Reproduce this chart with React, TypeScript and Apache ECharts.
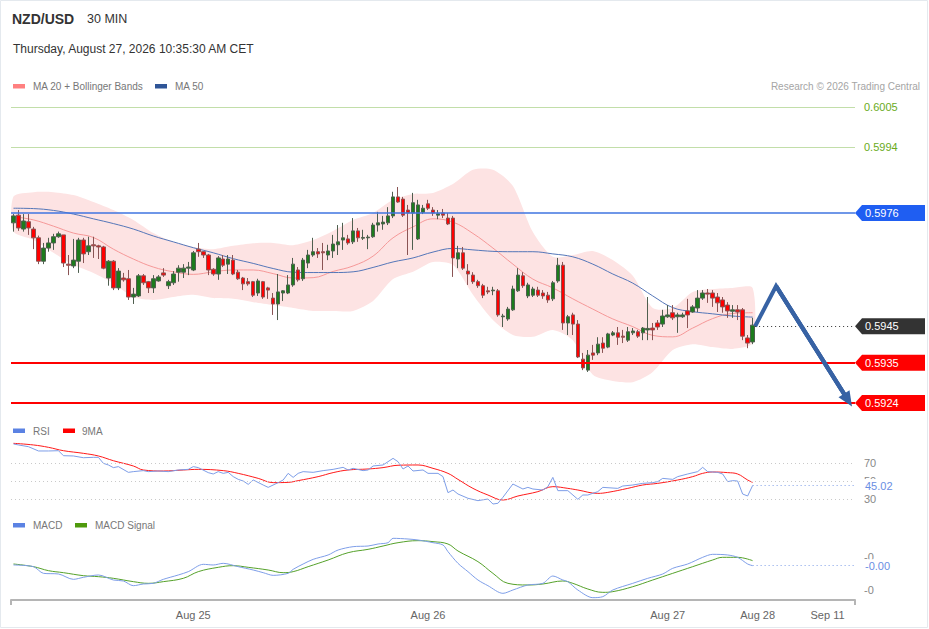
import React, { useEffect, useRef } from "react";
import * as echarts from "echarts";

// ---------- DATA ----------
const SLOT_COUNT = 169; // candle slots on the time axis (incl. forecast space)

// 30-min candles: [open, close, low, high]
const candles: number[][] = [
  [0.59733,0.59752,0.59709,0.59757],[0.59754,0.59719,0.59711,0.59768],[0.59716,0.59738,0.59709,0.59757],[0.59736,0.59719,0.59700,0.59757],
  [0.59716,0.59692,0.59661,0.59722],[0.59692,0.59628,0.59620,0.59698],[0.59628,0.59664,0.59620,0.59678],[0.59664,0.59678,0.59654,0.59692],
  [0.59678,0.59695,0.59659,0.59703],[0.59695,0.59703,0.59692,0.59709],[0.59700,0.59623,0.59612,0.59700],[0.59620,0.59617,0.59590,0.59645],
  [0.59615,0.59631,0.59609,0.59689],[0.59628,0.59686,0.59596,0.59692],[0.59686,0.59648,0.59623,0.59692],[0.59654,0.59670,0.59645,0.59695],
  [0.59673,0.59670,0.59637,0.59695],[0.59670,0.59667,0.59634,0.59673],[0.59667,0.59609,0.59606,0.59670],[0.59582,0.59628,0.59561,0.59631],
  [0.59628,0.59555,0.59549,0.59631],[0.59555,0.59601,0.59549,0.59609],[0.59582,0.59577,0.59572,0.59596],[0.59580,0.59530,0.59522,0.59604],
  [0.59530,0.59538,0.59511,0.59555],[0.59533,0.59588,0.59530,0.59593],[0.59588,0.59569,0.59563,0.59593],[0.59572,0.59555,0.59541,0.59574],
  [0.59555,0.59580,0.59541,0.59590],[0.59574,0.59585,0.59572,0.59590],[0.59596,0.59590,0.59585,0.59609],[0.59561,0.59572,0.59552,0.59577],
  [0.59569,0.59593,0.59563,0.59601],[0.59598,0.59609,0.59572,0.59617],[0.59598,0.59609,0.59582,0.59620],[0.59609,0.59612,0.59590,0.59626],
  [0.59604,0.59651,0.59601,0.59656],[0.59661,0.59654,0.59640,0.59678],[0.59654,0.59645,0.59637,0.59656],[0.59645,0.59604,0.59590,0.59648],
  [0.59606,0.59593,0.59588,0.59609],[0.59593,0.59637,0.59577,0.59642],[0.59634,0.59617,0.59612,0.59645],[0.59620,0.59634,0.59593,0.59645],
  [0.59631,0.59593,0.59590,0.59645],[0.59598,0.59580,0.59577,0.59604],[0.59582,0.59566,0.59549,0.59585],[0.59572,0.59566,0.59561,0.59582],
  [0.59572,0.59535,0.59530,0.59574],[0.59541,0.59574,0.59533,0.59580],[0.59572,0.59530,0.59525,0.59574],[0.59555,0.59549,0.59525,0.59558],
  [0.59527,0.59511,0.59481,0.59541],[0.59511,0.59544,0.59467,0.59593],[0.59541,0.59547,0.59519,0.59549],[0.59541,0.59563,0.59538,0.59590],
  [0.59563,0.59620,0.59558,0.59637],[0.59604,0.59577,0.59572,0.59612],[0.59580,0.59631,0.59574,0.59637],[0.59623,0.59645,0.59609,0.59659],
  [0.59645,0.59654,0.59640,0.59692],[0.59654,0.59648,0.59637,0.59664],[0.59654,0.59651,0.59604,0.59678],[0.59645,0.59656,0.59631,0.59673],
  [0.59656,0.59675,0.59637,0.59700],[0.59673,0.59681,0.59645,0.59727],[0.59686,0.59692,0.59659,0.59733],[0.59689,0.59678,0.59673,0.59700],
  [0.59681,0.59711,0.59675,0.59746],[0.59711,0.59692,0.59681,0.59719],[0.59691,0.59693,0.59686,0.59714],[0.59692,0.59694,0.59661,0.59700],
  [0.59695,0.59727,0.59692,0.59733],[0.59727,0.59733,0.59709,0.59763],[0.59730,0.59735,0.59714,0.59752],[0.59733,0.59752,0.59727,0.59776],
  [0.59752,0.59804,0.59746,0.59818],[0.59804,0.59790,0.59788,0.59831],[0.59798,0.59754,0.59749,0.59804],[0.59768,0.59760,0.59645,0.59782],
  [0.59760,0.59788,0.59659,0.59815],[0.59689,0.59782,0.59686,0.59796],[0.59762,0.59773,0.59757,0.59782],[0.59785,0.59773,0.59768,0.59796],
  [0.59768,0.59760,0.59752,0.59776],[0.59754,0.59758,0.59743,0.59768],[0.59760,0.59754,0.59746,0.59771],[0.59746,0.59730,0.59727,0.59760],
  [0.59746,0.59637,0.59585,0.59752],[0.59634,0.59651,0.59609,0.59670],[0.59651,0.59609,0.59604,0.59667],[0.59601,0.59593,0.59563,0.59620],
  [0.59590,0.59572,0.59566,0.59598],[0.59572,0.59561,0.59555,0.59577],[0.59561,0.59535,0.59527,0.59566],[0.59547,0.59544,0.59538,0.59558],
  [0.59547,0.59549,0.59535,0.59558],[0.59547,0.59481,0.59476,0.59552],[0.59476,0.59478,0.59448,0.59484],[0.59470,0.59497,0.59465,0.59503],
  [0.59495,0.59552,0.59492,0.59561],[0.59547,0.59590,0.59544,0.59609],[0.59588,0.59561,0.59555,0.59598],[0.59533,0.59563,0.59527,0.59569],
  [0.59535,0.59552,0.59530,0.59558],[0.59549,0.59535,0.59530,0.59558],[0.59541,0.59533,0.59525,0.59549],[0.59535,0.59522,0.59514,0.59544],
  [0.59525,0.59569,0.59519,0.59574],[0.59574,0.59617,0.59569,0.59637],[0.59617,0.59459,0.59440,0.59626],[0.59459,0.59476,0.59426,0.59481],
  [0.59481,0.59456,0.59426,0.59487],[0.59456,0.59366,0.59363,0.59467],[0.59360,0.59336,0.59330,0.59377],[0.59330,0.59371,0.59325,0.59385],
  [0.59377,0.59371,0.59358,0.59399],[0.59377,0.59401,0.59371,0.59420],[0.59404,0.59390,0.59377,0.59420],[0.59393,0.59429,0.59390,0.59432],
  [0.59426,0.59432,0.59423,0.59437],[0.59432,0.59420,0.59399,0.59448],[0.59423,0.59420,0.59404,0.59440],[0.59412,0.59435,0.59407,0.59448],
  [0.59432,0.59437,0.59426,0.59445],[0.59435,0.59423,0.59418,0.59440],[0.59432,0.59445,0.59412,0.59448],[0.59440,0.59444,0.59412,0.59530],
  [0.59445,0.59440,0.59412,0.59459],[0.59459,0.59448,0.59440,0.59467],[0.59456,0.59478,0.59448,0.59495],[0.59476,0.59481,0.59473,0.59508],
  [0.59487,0.59473,0.59467,0.59508],[0.59476,0.59481,0.59432,0.59487],[0.59476,0.59481,0.59473,0.59487],[0.59492,0.59481,0.59445,0.59525],
  [0.59489,0.59503,0.59487,0.59508],[0.59500,0.59527,0.59489,0.59549],[0.59527,0.59541,0.59522,0.59549],[0.59541,0.59538,0.59514,0.59552],
  [0.59541,0.59527,0.59503,0.59549],[0.59530,0.59514,0.59489,0.59541],[0.59522,0.59503,0.59487,0.59530],[0.59508,0.59492,0.59473,0.59516],
  [0.59491,0.59495,0.59473,0.59508],[0.59495,0.59489,0.59467,0.59508],[0.59495,0.59423,0.59412,0.59500],[0.59418,0.59404,0.59390,0.59426],
  [0.59407,0.59453,0.59401,0.59473],
];

// indicator samples (candle index of each sample)
const maIdx = [0,4,8,12,16,20,24,28,32,36,40,44,48,52,56,60,64,68,72,76,80,84,88,92,96,100,104,108,112,116,120,124,128,132,136,140,144,148];
const bbUpper = [0.59805,0.59817,0.59817,0.59809,0.59790,0.59768,0.59741,0.59705,0.59681,0.59667,0.59661,0.59670,0.59677,0.59678,0.59672,0.59686,0.59711,0.59741,0.59760,0.59796,0.59812,0.59815,0.59839,0.59878,0.59878,0.59834,0.59708,0.59640,0.59645,0.59656,0.59631,0.59588,0.59500,0.59500,0.59544,0.59552,0.59555,0.59555];
const bbLower = [0.59709,0.59686,0.59651,0.59618,0.59596,0.59568,0.59530,0.59522,0.59530,0.59536,0.59527,0.59525,0.59516,0.59508,0.59500,0.59492,0.59492,0.59492,0.59519,0.59579,0.59599,0.59626,0.59618,0.59536,0.59467,0.59426,0.59421,0.59440,0.59412,0.59317,0.59300,0.59297,0.59325,0.59385,0.59401,0.59393,0.59388,0.59404];
const ma20 = [0.59750,0.59741,0.59724,0.59705,0.59693,0.59661,0.59634,0.59612,0.59599,0.59592,0.59599,0.59604,0.59604,0.59594,0.59582,0.59583,0.59600,0.59615,0.59642,0.59692,0.59722,0.59744,0.59735,0.59704,0.59664,0.59620,0.59579,0.59555,0.59525,0.59497,0.59470,0.59449,0.59425,0.59421,0.59445,0.59471,0.59485,0.59487];
const ma50 = [0.59773,0.59772,0.59767,0.59757,0.59744,0.59731,0.59716,0.59697,0.59681,0.59665,0.59651,0.59635,0.59622,0.59608,0.59598,0.59597,0.59597,0.59599,0.59611,0.59626,0.59637,0.59653,0.59663,0.59659,0.59655,0.59654,0.59654,0.59648,0.59640,0.59620,0.59593,0.59568,0.59533,0.59501,0.59490,0.59484,0.59478,0.59475];

// RSI [candle index, value]
const rsi: number[][] = [[0,90.7],[1,89.6],[3,87.7],[5,83],[7,83],[9,83.3],[10,77.8],[12,77.5],[14,75.6],[16,76],[17,76],[18,69.4],[19,67.6],[20,64.7],[21,65.8],[23,59.5],[24,60.3],[26,61.4],[27,60.3],[29,61],[31,60.3],[33,62.1],[35,62.8],[36,65.8],[37,64.7],[39,59.2],[40,57.7],[41,60.3],[42,58.4],[43,59.5],[44,54.8],[45,51.8],[46,50],[47,46.3],[48,51.1],[50,45.6],[51,43],[53,48.2],[54,51.1],[55,58.4],[56,54],[57,58.4],[58,60.3],[60,59.5],[62,61.4],[64,62.8],[65,63.9],[66,65],[67,62.1],[68,63.9],[70,61.4],[71,62.1],[72,66.5],[74,67.6],[76,74.9],[77,71.2],[78,63.2],[79,66.5],[80,61],[82,62.1],[83,58.4],[85,58.4],[86,54.8],[87,37.2],[88,40.1],[89,35.7],[91,31],[93,28.4],[95,30.2],[96,24.7],[97,25.5],[98,32.1],[100,46.7],[102,41.2],[103,43],[104,41.2],[106,40.1],[107,43.8],[108,54],[109,39.4],[111,39.4],[113,29.9],[114,34.6],[115,34.6],[117,38.3],[118,43],[121,41.9],[122,44.5],[124,45.6],[126,47.4],[128,48.2],[129,49.3],[130,52.9],[132,51.8],[133,54.8],[135,57.7],[137,60.3],[138,65],[139,60.3],[141,59.5],[142,57.7],[143,49.3],[144,50.4],[145,50],[146,35.7],[147,33.5],[148,45.02]];
const rsiMa: number[][] = [[0,91.4],[4,89.6],[7,87],[10,83.3],[14,80.4],[17,77.5],[20,72.3],[24,66.5],[26,62.1],[30,61],[34,62.1],[37,62.8],[42,61.4],[45,58.4],[49,52.9],[52,48.2],[55,48.5],[57,50.4],[61,54.8],[64,59.2],[67,62.1],[71,63.2],[74,64.7],[77,67.3],[81,67.6],[84,63.9],[87,58.4],[89,51.8],[92,41.9],[95,34.6],[98,29.1],[101,33.5],[105,38.3],[108,43.8],[111,41.9],[113,40.1],[117,36.4],[119,37.5],[123,41.9],[126,45.6],[129,47.4],[133,51.1],[136,54.8],[138,58.4],[140,59.9],[143,59.2],[145,57.7],[147,51.1],[148,48.5]];
const rsiLevels = [70, 50, 30];
const rsiLast = 45.02;

// MACD in units of 1e-4 [candle index, value]
const macd: number[][] = [[0,-2.42],[4,-2.93],[6,-4.95],[9,-5.15],[12,-6.77],[14,-6.16],[17,-5.45],[20,-6.97],[22,-7.27],[24,-8.69],[26,-8.18],[28,-7.98],[30,-6.77],[33,-5.45],[35,-4.44],[38,-2.22],[40,-2.42],[42,-1.92],[45,-2.93],[48,-3.94],[50,-4.75],[52,-5.56],[55,-4.95],[56,-3.74],[58,-2.12],[60,-0.71],[63,0.61],[65,2.12],[68,3.13],[71,3.33],[73,3.94],[75,4.34],[76,5.66],[79,5.45],[81,5.15],[84,4.34],[86,3.64],[87,1.62],[89,-1.92],[91,-4.44],[93,-6.97],[95,-8.69],[98,-11.01],[100,-10],[103,-8.48],[106,-7.98],[108,-5.76],[110,-6.97],[111,-7.47],[113,-10],[116,-12.32],[118,-12.02],[120,-10],[124,-7.98],[127,-6.46],[130,-5.15],[132,-3.43],[135,-2.12],[138,-0.1],[140,0.81],[143,0.61],[145,-0.1],[147,-2.12],[148,-2.63]];
const macdSignal: number[][] = [[0,-2.12],[4,-2.93],[7,-4.14],[10,-4.75],[14,-5.66],[17,-5.96],[20,-6.46],[24,-7.47],[27,-7.98],[30,-7.47],[34,-6.46],[37,-4.44],[41,-3.13],[44,-2.63],[47,-3.13],[51,-3.94],[54,-4.75],[56,-4.44],[59,-2.93],[63,-0.91],[67,1.31],[71,2.32],[74,3.33],[77,4.34],[81,4.95],[84,4.65],[87,3.94],[89,1.82],[93,-1.41],[96,-4.95],[99,-7.98],[103,-8.48],[106,-8.18],[110,-7.27],[112,-7.98],[115,-9.7],[118,-10.71],[120,-10.5],[124,-9],[128,-6.97],[132,-4.95],[136,-2.93],[140,-0.91],[142,-0.1],[145,-0.1],[148,-1.11]];
const macdTickVals = [0, -10];
const macdTickText = ["-0", "-0"];
const macdLastText = "-0.00";

// levels
const resistLevels = [0.6005, 0.5994];
const pivotLevel = 0.5976;
const lastPrice = 0.5945;
const supportLevels = [0.5935, 0.5924];

// forecast path [candle index, price]
const forecast: number[][] = [[148.5, 0.5945], [152.7, 0.5956], [167.1, 0.59248]];

// time-axis labels
const xLabelIdx = [36, 83, 131, 149, 163];
const xLabelText = ["Aug 25", "Aug 26", "Aug 27", "Aug 28", "Sep 11"];

// ---------- CHART ----------
const FONT = 'Arial, "Liberation Sans", Helvetica, sans-serif';
const GL = 11;
const GR = 74;
const XMIN = -0.5;
const XMAX = SLOT_COUNT - 0.5;

function txt(id: string, x: number, y: number, text: string, size: number, fill: string, weight = "normal", align = "left") {
  return {
    type: "text", id, x, y, silent: true,
    style: { text, fill, font: `${weight} ${size}px ${FONT}`, align, verticalAlign: "middle" },
  };
}

function staticGraphics() {
  return [
    { type: "rect", id: "frame", silent: true, z: -10, shape: { x: 0.5, y: 0.5, width: 927, height: 627 }, style: { fill: "#fff", stroke: "#e4e9ee", lineWidth: 1 } },
    txt("t1", 12, 19, "NZD/USD", 14, "#333", "bold"),
    txt("t2", 87, 19, "30 MIN", 12.5, "#333"),
    txt("t3", 13, 49, "Thursday, August 27, 2026 10:35:30 AM CET", 12, "#333"),
    { type: "rect", id: "lg1", silent: true, shape: { x: 13, y: 84, width: 12, height: 4.5 }, style: { fill: "#ff8080" } },
    txt("lt1", 33, 86.5, "MA 20 + Bollinger Bands", 10, "#777"),
    { type: "rect", id: "lg2", silent: true, shape: { x: 155, y: 84, width: 12, height: 4.5 }, style: { fill: "#2f5597" } },
    txt("lt2", 175, 86.5, "MA 50", 10, "#777"),
    txt("rc", 920, 86.5, "Research \u00a9 2026 Trading Central", 10, "#a5a5a5", "normal", "right"),
    { type: "rect", id: "lg3", silent: true, shape: { x: 13, y: 428.5, width: 12, height: 4.5 }, style: { fill: "#5b82e3" } },
    txt("lt3", 33, 431, "RSI", 10, "#777"),
    { type: "rect", id: "lg4", silent: true, shape: { x: 63, y: 428.5, width: 12, height: 4.5 }, style: { fill: "#ff0000" } },
    txt("lt4", 82, 431, "9MA", 10, "#777"),
    { type: "rect", id: "lg5", silent: true, shape: { x: 13, y: 523, width: 12, height: 4.5 }, style: { fill: "#5b82e3" } },
    txt("lt5", 33, 525.5, "MACD", 10, "#777"),
    { type: "rect", id: "lg6", silent: true, shape: { x: 75, y: 523, width: 12, height: 4.5 }, style: { fill: "#4f9a0c" } },
    txt("lt6", 95, 525.5, "MACD Signal", 10, "#777"),
  ];
}

function buildOption(): any {
  const cats = candles.map((_, i) => String(i)).concat(
    Array.from({ length: SLOT_COUNT - candles.length }, (_, i) => "f" + i)
  );
  const lblStyle = { fontFamily: FONT, fontSize: 11 };
  const lastIdx = candles.length - 1;
  const macdLast = macd[macd.length - 1][1];

  return {
    animation: false,
    backgroundColor: "#ffffff",
    textStyle: { fontFamily: FONT },
    graphic: { elements: staticGraphics() },
    grid: [
      { left: GL, right: GR, top: 107, height: 296 },
      { left: GL, right: GR, top: 435.5, height: 81.9 },
      { left: GL, right: GR, top: 530, height: 70 },
    ],
    xAxis: [
      { type: "category", gridIndex: 0, data: cats, boundaryGap: true, show: false },
      { type: "value", gridIndex: 0, min: XMIN, max: XMAX, show: false },
      { type: "value", gridIndex: 1, min: XMIN, max: XMAX, show: false },
      {
        type: "value", gridIndex: 2, min: XMIN, max: XMAX, show: true,
        splitLine: { show: false },
        axisLine: { show: true, onZero: false, lineStyle: { color: "#b5b5b5", width: 2 } },
        axisTick: { show: true, length: 5, customValues: [XMIN, XMAX], lineStyle: { color: "#b5b5b5", width: 2 } },
        axisLabel: {
          show: true, customValues: xLabelIdx, margin: 9, color: "#666", ...lblStyle,
          formatter: (v: number) => {
            const k = xLabelIdx.indexOf(Math.round(v));
            return k >= 0 ? xLabelText[k] : "";
          },
        },
      },
    ],
    yAxis: [
      { type: "value", gridIndex: 0, min: supportLevels[1], max: resistLevels[0], show: false },
      { type: "value", gridIndex: 1, min: 10, max: 100, show: false },
      {
        type: "value", gridIndex: 2, min: -13.03, max: 8.18, show: true, position: "right",
        splitLine: { show: false }, axisLine: { show: false }, axisTick: { show: false },
        axisLabel: {
          show: true, customValues: macdTickVals, margin: 9, color: "#888", ...lblStyle,
          formatter: (v: number) => {
            const k = macdTickVals.indexOf(Math.round(v));
            return k >= 0 ? macdTickText[k] : "";
          },
        },
      },
    ],
    series: [
      {
        type: "custom", name: "BB", xAxisIndex: 1, yAxisIndex: 0, z: 1, silent: true,
        data: maIdx.map((x, i) => [x, bbUpper[i], bbLower[i]]),
        encode: { x: 0, y: [1, 2] },
        renderItem: (params: any, api: any) => {
          if (params.dataIndex !== 0) return null;
          const up = maIdx.map((x, i) => api.coord([x, bbUpper[i]]));
          const lo = maIdx.map((x, i) => api.coord([x, bbLower[i]])).reverse();
          return {
            type: "polygon",
            shape: { points: up.concat(lo), smooth: 0.25 },
            style: { fill: "#fde3e3", stroke: null },
          };
        },
      },
      {
        type: "line", name: "MA20", xAxisIndex: 1, yAxisIndex: 0, z: 2, silent: true,
        data: maIdx.map((x, i) => [x, ma20[i]]), symbol: "none", smooth: 0.4,
        lineStyle: { color: "#f59898", width: 1 },
      },
      {
        type: "line", name: "MA50", xAxisIndex: 1, yAxisIndex: 0, z: 2, silent: true,
        data: maIdx.map((x, i) => [x, ma50[i]]), symbol: "none", smooth: 0.4,
        lineStyle: { color: "#5476b8", width: 1 },
      },
      {
        type: "candlestick", name: "NZD/USD", xAxisIndex: 0, yAxisIndex: 0, z: 3,
        data: candles, barWidth: 4,
        itemStyle: {
          color: "#1c7c1c", color0: "#ff0000",
          borderColor: "#4f5f4f", borderColor0: "#8a5454", borderWidth: 1,
        },
      },
      {
        type: "line", name: "levels", xAxisIndex: 1, yAxisIndex: 0, z: 4, silent: true,
        data: forecast, symbol: "none",
        lineStyle: { color: "#3762a4", width: 4, join: "miter" },
        markLine: {
          silent: true, symbol: "none", animation: false, precision: 6,
          data: [
            ...resistLevels.map((v) => ({
              yAxis: v, lineStyle: { color: "#c2dea9", width: 1, type: "solid" },
              label: { show: true, position: "end", distance: 9, formatter: v.toFixed(4), color: "#6aab1c", ...lblStyle },
            })),
            { yAxis: pivotLevel, lineStyle: { color: "#3f74e0", width: 1.5, type: "solid" }, label: { show: false } },
            ...supportLevels.map((v) => ({
              yAxis: v, lineStyle: { color: "#ff0000", width: 2, type: "solid" }, label: { show: false },
            })),
            [
              { coord: [lastIdx + 0.5, lastPrice], lineStyle: { color: "#333", width: 1, type: [1, 3] }, label: { show: false } },
              { coord: [XMAX, lastPrice] },
            ],
          ],
        },
      },
      {
        type: "line", name: "forecastHead", xAxisIndex: 1, yAxisIndex: 0, z: 5, silent: true,
        data: [forecast[1], forecast[2]], symbol: "none",
        lineStyle: { color: "#3762a4", width: 4 },
        markLine: {
          silent: true, symbol: ["none", "triangle"], symbolSize: [13, 15], animation: false, precision: 6,
          lineStyle: { color: "#3762a4", width: 4, type: "solid" },
          label: { show: false },
          data: [[{ coord: forecast[1] }, { coord: forecast[2] }]],
        },
      },
      {
        type: "line", name: "9MA", xAxisIndex: 2, yAxisIndex: 1, z: 2, silent: true,
        data: rsiMa, symbol: "none", smooth: 0.4,
        lineStyle: { color: "#ff1a1a", width: 1 },
      },
      {
        type: "line", name: "RSI", xAxisIndex: 2, yAxisIndex: 1, z: 3, silent: true,
        data: rsi, symbol: "none",
        lineStyle: { color: "#7e9ee8", width: 1 },
        markLine: {
          silent: true, symbol: "none", animation: false, precision: 4,
          data: [
            ...rsiLevels.map((v) => ({
              yAxis: v, lineStyle: { color: "#c9c9c9", width: 1, type: [1, 3] },
              label: { show: true, position: "end", distance: 9, formatter: String(v), color: "#888", ...lblStyle },
            })),
            [
              {
                coord: [lastIdx, rsiLast], lineStyle: { color: "#7e9ee8", width: 1, type: [1, 3] },
                label: { show: true, position: "end", distance: 9, formatter: rsiLast.toFixed(2), color: "#6a8ee3", backgroundColor: "#fff", padding: [1, 1], ...lblStyle },
              },
              { coord: [XMAX, rsiLast] },
            ],
          ],
        },
      },
      {
        type: "line", name: "MACD Signal", xAxisIndex: 3, yAxisIndex: 2, z: 2, silent: true,
        data: macdSignal, symbol: "none", smooth: 0.4,
        lineStyle: { color: "#55a12a", width: 1 },
      },
      {
        type: "line", name: "MACD", xAxisIndex: 3, yAxisIndex: 2, z: 3, silent: true,
        data: macd, symbol: "none", smooth: 0.3,
        lineStyle: { color: "#7e9ee8", width: 1 },
        markLine: {
          silent: true, symbol: "none", animation: false, precision: 4,
          data: [
            [
              {
                coord: [lastIdx, macdLast], lineStyle: { color: "#7e9ee8", width: 1, type: [1, 3] },
                label: { show: true, position: "end", distance: 9, formatter: macdLastText, color: "#6a8ee3", backgroundColor: "#fff", padding: [1, 1], ...lblStyle },
              },
              { coord: [XMAX, macdLast] },
            ],
          ],
        },
      },
    ],
  };
}

export default function App() {
  const ref = useRef<HTMLDivElement>(null);

  useEffect(() => {
    document.body.style.margin = "0";
    if (!ref.current) return;
    const chart = echarts.init(ref.current, undefined, { renderer: "svg" });
    chart.setOption(buildOption());

    // price tags anchored to their level through the axis scale
    const xTip = chart.convertToPixel({ xAxisIndex: 1 }, XMAX) as number;
    const tags = [
      { v: pivotLevel, color: "#1f5ef2" },
      { v: lastPrice, color: "#333333" },
      { v: supportLevels[0], color: "#ff0000" },
      { v: supportLevels[1], color: "#ff0000" },
    ];
    const tagEls = tags.map((t, k) => {
      const y = chart.convertToPixel({ yAxisIndex: 0 }, t.v) as number;
      return {
        type: "group", id: "tag" + k, silent: true, z: 20,
        children: [
          {
            type: "polygon",
            shape: { points: [[xTip, y], [xTip + 7, y - 8], [xTip + 70, y - 8], [xTip + 70, y + 8], [xTip + 7, y + 8]] },
            style: { fill: t.color },
          },
          {
            type: "text", x: xTip + 10, y,
            style: { text: t.v.toFixed(4), fill: "#fff", font: `11px ${FONT}`, align: "left", verticalAlign: "middle" },
          },
        ],
      };
    });
    chart.setOption({ graphic: { elements: [...staticGraphics(), ...tagEls] } });

    return () => chart.dispose();
  }, []);

  return <div ref={ref} style={{ width: 929, height: 629 }} />;
}
